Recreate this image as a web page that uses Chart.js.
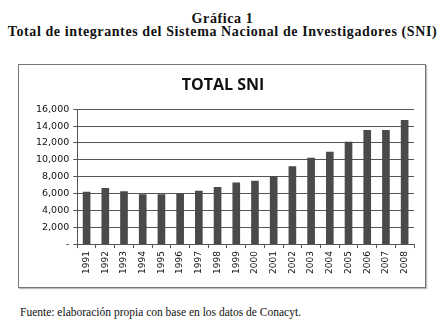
<!DOCTYPE html>
<html lang="es">
  <head>
    <meta charset="UTF-8" />
    <title>Total SNI</title>
    <style>
      body {
        margin: 0;
        padding: 0;
        width: 445px;
        height: 331px;
        background: #fff;
        position: relative;
        overflow: hidden;
      }
      .heading {
        position: absolute;
        left: 0;
        width: 445px;
        top: 12px;
        text-align: center;
        font-family: 'Liberation Serif', serif;
        font-weight: bold;
        font-size: 14px;
        letter-spacing: 0.6px;
        line-height: 13px;
        color: #111;
      }
      .box {
        position: absolute;
        left: 18px;
        top: 64px;
        width: 406px;
        height: 222px;
        border: 1px solid #777;
        box-shadow: 1px 1px 1px #bbb;
        background: #fff;
      }
      .source {
        position: absolute;
        left: 20px;
        top: 306px;
        font-family: 'Liberation Serif', serif;
        font-size: 11.5px;
        color: #111;
      }
    </style>
  </head>
  <body>
    <div class="heading">Gráfica 1<br />Total de integrantes del Sistema Nacional de Investigadores (SNI)</div>
    <div class="box">
      <canvas id="chart" width="406" height="222"></canvas>
    </div>
    <div class="source">Fuente: elaboración propia con base en los datos de Conacyt.</div>

    <script src="https://cdn.jsdelivr.net/npm/chart.js@4.4.0/dist/chart.umd.min.js"></script>
    <script>
      let years = ['1991', '1992', '1993', '1994', '1995', '1996', '1997', '1998', '1999',
        '2000', '2001', '2002', '2003', '2004', '2005', '2006', '2007', '2008'];
      let members = [6165, 6602, 6233, 5879, 5868, 5969, 6278, 6742, 7252,
        7466, 8018, 9199, 10189, 10904, 12096, 13485, 13484, 14681];
      let yTicks = [0, 2000, 4000, 6000, 8000, 10000, 12000, 14000, 16000];

      new Chart(document.getElementById('chart'), {
        type: 'bar',
        data: {
          labels: years,
          datasets: [
            {
              data: members,
              backgroundColor: '#4a4a4a',
              barThickness: 7,
            },
          ],
        },
        options: {
          responsive: false,
          animation: false,
          layout: { padding: { left: 13, right: 11, top: 0, bottom: 10 } },
          plugins: {
            legend: { display: false },
            tooltip: { enabled: false },
            title: {
              display: true,
              text: 'TOTAL SNI',
              color: '#111',
              font: { family: 'Open Sans', size: 16, weight: 'bold' },
              padding: { top: 11, bottom: 14 },
            },
          },
          scales: {
            y: {
              min: 0,
              max: 16000,
              afterBuildTicks: (axis) => {
                axis.ticks = yTicks.map((v) => ({ value: v }));
              },
              border: { display: true, color: '#555' },
              grid: { color: '#555', tickLength: 4, tickColor: '#555' },
              ticks: {
                color: '#111',
                padding: 4,
                font: { family: 'DejaVu Sans', size: 9.5 },
                callback: (v) => (v === 0 ? '-' : v.toLocaleString('en-US')),
              },
            },
            x: {
              border: { display: true, color: '#555' },
              grid: { offset: true, drawOnChartArea: false, tickLength: 4, tickColor: '#555' },
              ticks: {
                color: '#111',
                maxRotation: 90,
                minRotation: 90,
                padding: 3,
                font: { family: 'DejaVu Sans', size: 9 },
              },
            },
          },
        },
      });
    </script>
  </body>
</html>
